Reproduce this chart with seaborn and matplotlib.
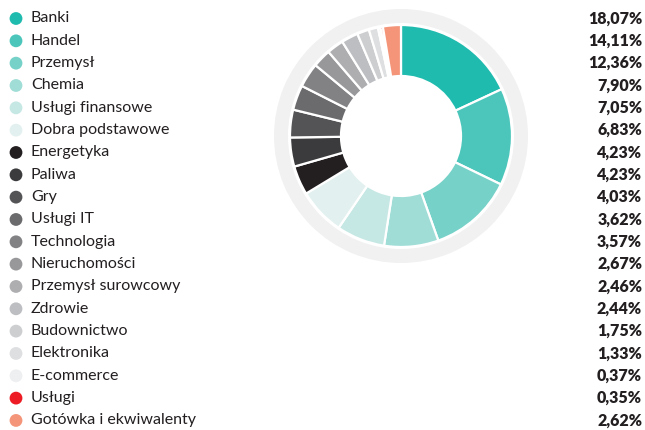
import matplotlib.pyplot as plt
import seaborn as sns
import pandas as pd
from matplotlib.patches import Wedge

# sector weights in the portfolio (%)
sectors = ["Banki", "Handel", "Przemysł", "Chemia", "Usługi finansowe",
           "Dobra podstawowe", "Energetyka", "Paliwa", "Gry", "Usługi IT",
           "Technologia", "Nieruchomości", "Przemysł surowcowy", "Zdrowie",
           "Budownictwo", "Elektronika", "E-commerce", "Usługi",
           "Gotówka i ekwiwalenty"]
shares = [18.07, 14.11, 12.36, 7.90, 7.05, 6.83, 4.23, 4.23, 4.03, 3.62,
          3.57, 2.67, 2.46, 2.44, 1.75, 1.33, 0.37, 0.35, 2.62]
share_labels = ["18,07%", "14,11%", "12,36%", "7,90%", "7,05%", "6,83%",
                "4,23%", "4,23%", "4,03%", "3,62%", "3,57%", "2,67%",
                "2,46%", "2,44%", "1,75%", "1,33%", "0,37%", "0,35%", "2,62%"]
colors = ["#20bbaf", "#4cc6bb", "#76d1c8", "#a0ddd7", "#c6e8e4", "#e2f1ef",
          "#231f20", "#3b3b3d", "#545457", "#6b6b6e", "#828285", "#98989b",
          "#aeaeb1", "#bdbec1", "#cdced0", "#dedfe0", "#eeeff0", "#ed1c24",
          "#f4957a"]

df = pd.DataFrame({"sector": sectors, "share": shares, "label": share_labels})

sns.set_style("white")
plt.rcParams["font.family"] = ["Lato", "DejaVu Sans"]

W, H = 645, 430
fig = plt.figure(figsize=(W / 100, H / 100), dpi=100)

# legend / labels layer in pixel coordinates
lax = fig.add_axes([0, 0, 1, 1])
lax.set_xlim(0, W)
lax.set_ylim(H, 0)
lax.axis("off")

row0, step = 18.5, 22.33
df["y"] = row0 + step * df.index
df["x"] = 16
sns.scatterplot(data=df, x="x", y="y", hue="sector", palette=colors,
                s=85, linewidth=0, legend=False, ax=lax)
for _, r in df.iterrows():
    lax.text(31, r["y"], r["sector"], fontsize=11.5, color="#231f20",
             va="center", ha="left")
    lax.text(642, r["y"], r["label"], fontsize=11.5, fontweight="heavy",
             color="#231f20", va="center", ha="right")

# donut
cx, cy, half = 401, 430 - 136, 132
ax = fig.add_axes([(cx - half) / W, (cy - half) / H, 2 * half / W, 2 * half / H])

ax.add_patch(Wedge((0, 0), 127, 0, 360, width=14, color="#f0f1f0", lw=0))
ax.pie(df["share"], colors=colors, radius=111, startangle=90,
       counterclock=False, center=(0, 0), frame=True,
       wedgeprops=dict(width=51, edgecolor="white", linewidth=1.6))
ax.set_xlim(-half, half)
ax.set_ylim(-half, half)
ax.set_aspect("equal")
ax.axis("off")

fig.savefig("out.png", dpi=100)
